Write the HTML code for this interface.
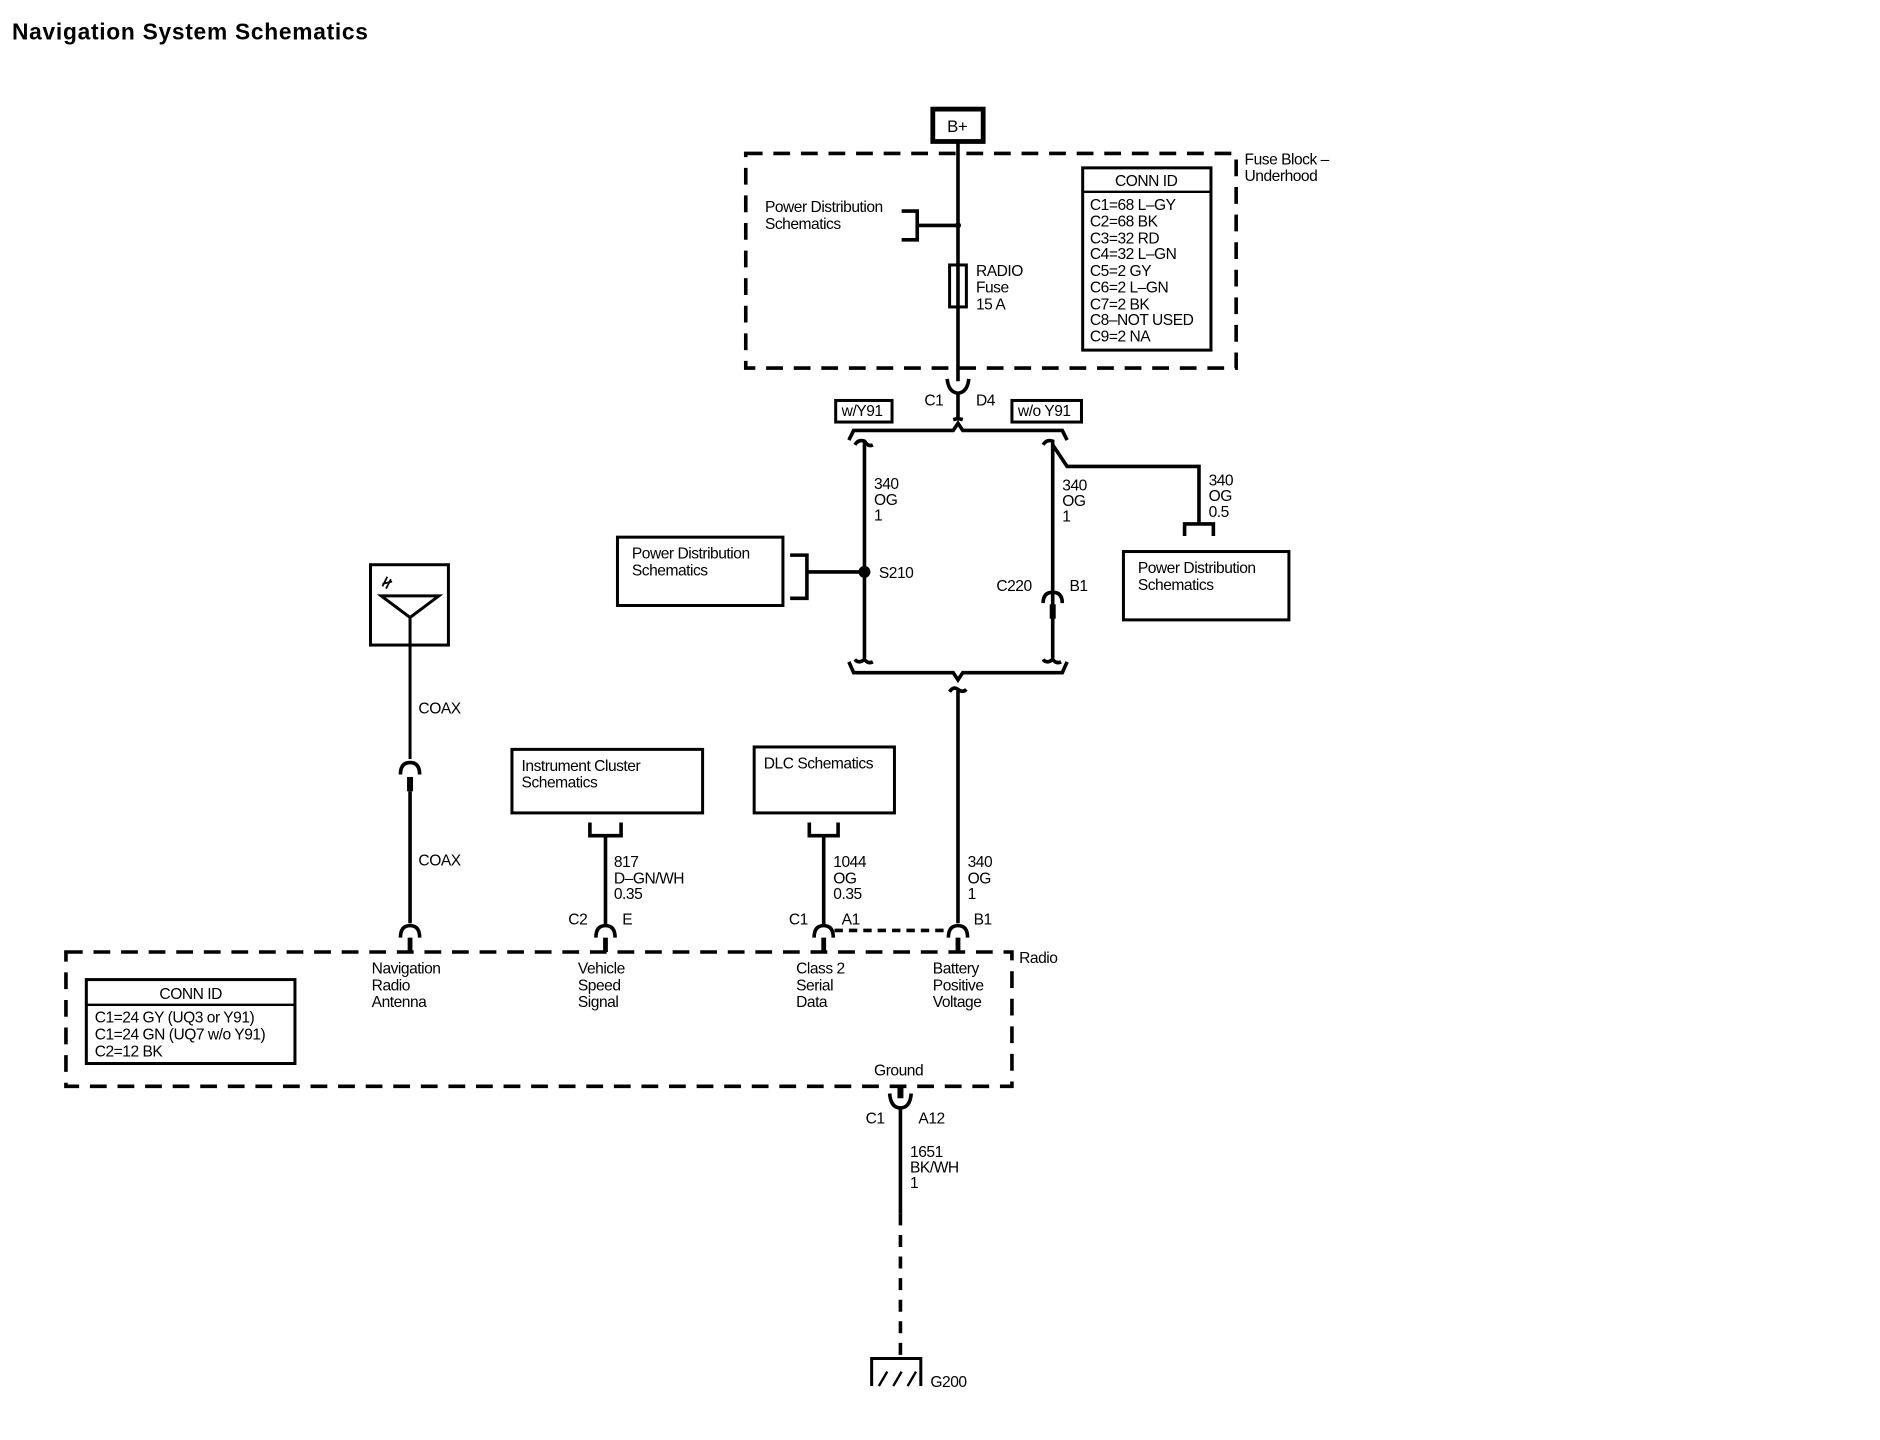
<!DOCTYPE html>
<html><head><meta charset="utf-8"><style>
html,body{margin:0;padding:0;background:#fff;}
svg{display:block}
text{font-family:"Liberation Sans",sans-serif;font-size:13px;fill:#000;letter-spacing:-0.4px}
</style></head><body>
<svg width="1880" height="1440" viewBox="0 0 1568 1201" preserveAspectRatio="none" xmlns="http://www.w3.org/2000/svg">
<rect width="1568" height="1201" fill="#fff"/>
<text x="10" y="33" style="font-size:19px;font-weight:bold;letter-spacing:0.6px">Navigation System Schematics</text>
<g fill="none" stroke="#000" stroke-width="3">
<rect x="778" y="91" width="42" height="27" stroke-width="4"/>
<line x1="799" y1="118" x2="799" y2="318"/>
<rect x="622" y="128" width="409" height="179" stroke-dasharray="14,9"/>
<path d="M752,176 H765 V200 H752 M765,188 H799"/>
<rect x="792" y="221" width="14" height="35" stroke-width="2.5"/>
<rect x="903" y="140" width="107" height="152" stroke-width="2.5"/>
<line x1="903" y1="160" x2="1010" y2="160" stroke-width="2"/>
<path d="M790,316 Q791,327 799,328 Q807,327 808,316"/>
<path d="M799,328 V349 L795,350 M799,349 L803,350"/>
<rect x="697" y="334" width="47" height="18" stroke-width="2.5"/>
<rect x="844" y="334" width="58" height="18" stroke-width="2.5"/>
<path d="M708,367 L712,359 L795,359 L799,353 L803,359 L886,359 L890,367"/>
<path d="M713,371 Q716,366 721,368 V550 Q724,554 728,552 M721,368 Q724,373 728,371 M713,550 Q716,554 721,550"/>
<path d="M870,371 Q873,366 878,368 V550 Q881,554 885,552 M870,550 Q873,554 878,550"/>
<path d="M878,371 L890,389 H1000 V437"/>
<path d="M988,447 V437 H1012 V447"/>
<rect x="515" y="448" width="138" height="57" stroke-width="2.5"/>
<path d="M659,463 H673 V499 H659 M673,477 H721"/>
<path d="M870,503 Q870,494 878,494 Q886,494 886,503"/>
<line x1="878" y1="504" x2="878" y2="516" stroke-width="5"/>
<rect x="937" y="460" width="138" height="57" stroke-width="2.5"/>
<path d="M708,552 L712,561 L795,561 L799,567 L803,561 L886,561 L890,552"/>
<path d="M792,577 Q795,572 799,575 Q803,578 806,575 M799,575 V770"/>
<rect x="309" y="471" width="65" height="67" stroke-width="2.5"/>
<path d="M318,497 H366 L342,515 Z M342,515 V633" stroke-width="2.5"/>
<path d="M319,489 L323,481 M322,491 L326,483 M319,487 L327,485" stroke-width="1.5"/>
<path d="M334,646 Q334,636 342,636 Q350,636 350,646"/>
<line x1="342" y1="648" x2="342" y2="660" stroke-width="5"/>
<line x1="342" y1="660" x2="342" y2="770"/>
<path d="M334,782 Q334,772 342,772 Q350,772 350,782"/>
<line x1="342" y1="782" x2="342" y2="794" stroke-width="4"/>
<rect x="427" y="625" width="159" height="53" stroke-width="2.5"/>
<path d="M492,686 V697 H518 V686 M505,697 V771"/>
<path d="M497,782 Q497,772 505,772 Q513,772 513,782"/>
<line x1="505" y1="782" x2="505" y2="794" stroke-width="4"/>
<rect x="629" y="623" width="117" height="55" stroke-width="2.5"/>
<path d="M675,686 V697 H699 V686 M687,697 V771"/>
<path d="M679,782 Q679,772 687,772 Q695,772 695,782"/>
<line x1="687" y1="782" x2="687" y2="794" stroke-width="4"/>
<path d="M791,782 Q791,772 799,772 Q807,772 807,782"/>
<line x1="799" y1="782" x2="799" y2="794" stroke-width="4"/>
<line x1="696" y1="776" x2="790" y2="776" stroke-dasharray="7,5"/>
<rect x="55" y="794" width="789" height="112" stroke-dasharray="14,9"/>
<rect x="72" y="817" width="174" height="70" stroke-width="2.5"/>
<line x1="72" y1="838" x2="246" y2="838" stroke-width="2"/>
<line x1="751" y1="906" x2="751" y2="916" stroke-width="5"/>
<path d="M742,912 Q743,924 751,924 Q759,924 760,912"/>
<line x1="751" y1="924" x2="751" y2="1012"/>
<line x1="751" y1="1012" x2="751" y2="1130" stroke-dasharray="10,8"/>
<path d="M727,1156 V1133 H768 V1156" stroke-width="2.5"/>
<path d="M733,1156 L740,1144 M745,1156 L752,1144 M757,1156 L764,1144" stroke-width="2"/>
</g>
<circle cx="799" cy="188" r="2.5"/>
<circle cx="721" cy="477" r="5"/>
<text x="790" y="110" style="font-size:14px">B+</text>
<text x="1038" y="137">Fuse Block –</text>
<text x="1038" y="151">Underhood</text>
<text x="638" y="177">Power Distribution</text>
<text x="638" y="191">Schematics</text>
<text x="814" y="230">RADIO</text>
<text x="814" y="244">Fuse</text>
<text x="814" y="258">15 A</text>
<text x="956" y="155" text-anchor="middle">CONN ID</text>
<text x="909" y="175">C1=68 L–GY</text>
<text x="909" y="189">C2=68 BK</text>
<text x="909" y="203">C3=32 RD</text>
<text x="909" y="216">C4=32 L–GN</text>
<text x="909" y="230">C5=2 GY</text>
<text x="909" y="244">C6=2 L–GN</text>
<text x="909" y="258">C7=2 BK</text>
<text x="909" y="271">C8–NOT USED</text>
<text x="909" y="285">C9=2 NA</text>
<text x="771" y="338">C1</text>
<text x="814" y="338">D4</text>
<text x="702" y="347">w/Y91</text>
<text x="849" y="347">w/o Y91</text>
<text x="729" y="408">340</text><text x="729" y="421">OG</text><text x="729" y="434">1</text>
<text x="886" y="409">340</text><text x="886" y="422">OG</text><text x="886" y="435">1</text>
<text x="1008" y="405">340</text><text x="1008" y="418">OG</text><text x="1008" y="431">0.5</text>
<text x="527" y="466">Power Distribution</text>
<text x="527" y="480">Schematics</text>
<text x="733" y="482">S210</text>
<text x="831" y="493">C220</text>
<text x="892" y="493">B1</text>
<text x="949" y="478">Power Distribution</text>
<text x="949" y="492">Schematics</text>
<text x="349" y="595">COAX</text>
<text x="349" y="722">COAX</text>
<text x="435" y="643">Instrument Cluster</text>
<text x="435" y="657">Schematics</text>
<text x="637" y="641">DLC Schematics</text>
<text x="512" y="723">817</text><text x="512" y="737">D–GN/WH</text><text x="512" y="750">0.35</text>
<text x="695" y="723">1044</text><text x="695" y="737">OG</text><text x="695" y="750">0.35</text>
<text x="807" y="723">340</text><text x="807" y="737">OG</text><text x="807" y="750">1</text>
<text x="474" y="771">C2</text><text x="519" y="771">E</text>
<text x="658" y="771">C1</text><text x="702" y="771">A1</text>
<text x="812" y="771">B1</text>
<text x="850" y="803">Radio</text>
<text x="310" y="812">Navigation</text><text x="310" y="826">Radio</text><text x="310" y="840">Antenna</text>
<text x="482" y="812">Vehicle</text><text x="482" y="826">Speed</text><text x="482" y="840">Signal</text>
<text x="664" y="812">Class 2</text><text x="664" y="826">Serial</text><text x="664" y="840">Data</text>
<text x="778" y="812">Battery</text><text x="778" y="826">Positive</text><text x="778" y="840">Voltage</text>
<text x="159" y="833" text-anchor="middle">CONN ID</text>
<text x="79" y="853">C1=24 GY (UQ3 or Y91)</text>
<text x="79" y="867">C1=24 GN (UQ7 w/o Y91)</text>
<text x="79" y="881">C2=12 BK</text>
<text x="729" y="897">Ground</text>
<text x="722" y="937">C1</text><text x="766" y="937">A12</text>
<text x="759" y="965">1651</text><text x="759" y="978">BK/WH</text><text x="759" y="991">1</text>
<text x="776" y="1157">G200</text>
</svg>
</body></html>
